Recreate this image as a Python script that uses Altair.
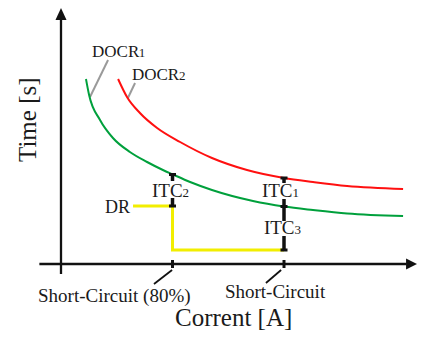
import altair as alt
import pandas as pd

# ---------------- data (current: short-circuit = 10 units, time: arbitrary units) -------------
docr1_current = [1.12, 1.26, 1.75, 2.33, 3.09, 3.86, 4.57, 5.02, 5.79, 6.77, 8.61, 10.0, 11.3, 12.83, 15.34]
docr1_time = [9.25, 8.45, 7.2, 6.3, 5.6, 5.1, 4.7, 4.475, 4.1, 3.7, 3.15, 2.875, 2.7, 2.525, 2.4]

docr2_current = [2.56, 2.96, 3.54, 4.31, 5.34, 6.77, 8.34, 10.0, 11.3, 12.83, 15.34]
docr2_time = [9.25, 8.35, 7.55, 6.8, 6.1, 5.3, 4.7, 4.3, 4.1, 3.9, 3.75]

dr_current = [3.23, 5.0, 5.0, 10.0]
dr_time = [2.9, 2.9, 0.7, 0.7]

# ITC vertical segments (broken where the labels sit)
itc_seg_current = [5.0, 5.0, 10.0, 10.0, 10.0]
itc_seg_from = [4.475, 3.3, 4.3, 3.25, 1.4]
itc_seg_to = [4.15, 2.9, 4.05, 2.15, 0.7]
# ITC end marks
itc_mark_current = [5.0, 5.0, 10.0, 10.0, 10.0]
itc_mark_time = [4.475, 2.9, 4.3, 2.875, 0.7]

# axis ticks
tick_current = [5.0, 10.0]

# axes extents
x_axis_from, x_axis_to = -0.97, 15.5
y_axis_from, y_axis_to = -0.5, 12.5
x_arrow = 15.72
y_arrow = 12.5

# leader lines
leader_x1 = [4.98, 9.87]
leader_y1 = [-0.3, -0.3]
leader_x2 = [4.17, 9.19]
leader_y2 = [-1.0, -0.95]
gray_x1 = [2.11, 3.32]
gray_y1 = [10.2, 9.05]
gray_x2 = [1.30, 3.00]
gray_y2 = [8.35, 8.3]

# labels
label_text = ["DOCR", "DOCR", "ITC", "ITC", "ITC", "DR"]
label_current = [1.39, 3.18, 4.08, 9.01, 9.10, 1.97]
label_time = [10.35, 9.2, 3.35, 3.35, 1.5, 2.55]
label_size = [17, 17, 19, 19, 19, 18]
sub_text = ["1", "2", "2", "1", "3"]
sub_current = [3.49, 5.29, 5.45, 10.38, 10.47]
sub_time = [10.35, 9.2, 3.35, 3.35, 1.5]
sc_text = ["Short-Circuit (80%)", "Short-Circuit"]
sc_current = [-1.03, 7.35]
sc_time = [-1.9, -1.7]

XDOM = [-2.3767, 15.964]
YDOM = [-3.4, 12.8]
W, H = 409, 324
FONT = "Liberation Serif"

xs = alt.Scale(domain=XDOM, nice=False, zero=False)
ys = alt.Scale(domain=YDOM, nice=False, zero=False)


def X(f="u"):
    return alt.X(f"{f}:Q", scale=xs, axis=None)


def Y(f="v"):
    return alt.Y(f"{f}:Q", scale=ys, axis=None)


green = alt.Chart(pd.DataFrame({"u": docr1_current, "v": docr1_time})).mark_line(
    color="#00a03c", strokeWidth=2, interpolate="monotone").encode(x=X(), y=Y())
red = alt.Chart(pd.DataFrame({"u": docr2_current, "v": docr2_time})).mark_line(
    color="#ff1010", strokeWidth=2, interpolate="monotone").encode(x=X(), y=Y())
yellow = alt.Chart(pd.DataFrame({"u": dr_current, "v": dr_time, "o": list(range(len(dr_time)))})).mark_line(
    color="#f2ee00", strokeWidth=3).encode(x=X(), y=Y(), order="o:O")

itc = alt.Chart(pd.DataFrame({"u": itc_seg_current, "v": itc_seg_from, "v2": itc_seg_to})).mark_rule(
    color="#111111", strokeWidth=3.5).encode(x=X(), y=Y(), y2="v2:Q")
itc_marks = alt.Chart(pd.DataFrame({"u": itc_mark_current, "v": itc_mark_time})).mark_tick(
    color="#111111", orient="horizontal", size=7, thickness=3, opacity=1).encode(x=X(), y=Y())

axes_df = pd.DataFrame({
    "u": [x_axis_from, 0.0], "u2": [x_axis_to, 0.0],
    "v": [0.0, y_axis_from], "v2": [0.0, y_axis_to]})
axes = alt.Chart(axes_df).mark_rule(color="#111111", strokeWidth=2.3).encode(
    x=X(), x2="u2:Q", y=Y(), y2="v2:Q")

ticks = alt.Chart(pd.DataFrame({"u": tick_current, "v": [0.0, 0.0]})).mark_tick(
    color="#111111", orient="vertical", size=8, thickness=3, opacity=1).encode(x=X(), y=Y())

arrow_up = alt.Chart(pd.DataFrame({"u": [0.0], "v": [y_arrow]})).mark_point(
    shape="M0,-1L-0.92,1L0.92,1Z", size=144, filled=True, color="#111111", opacity=1).encode(x=X(), y=Y())
arrow_right = alt.Chart(pd.DataFrame({"u": [x_arrow], "v": [0.0]})).mark_point(
    shape="M1,0L-1,-1L-1,1Z", size=121, filled=True, color="#111111", opacity=1).encode(x=X(), y=Y())

leaders = alt.Chart(pd.DataFrame({"u": leader_x1, "v": leader_y1, "u2": leader_x2, "v2": leader_y2})).mark_rule(
    color="#111111", strokeWidth=1.8).encode(x=X(), y=Y(), x2="u2:Q", y2="v2:Q")
gray = alt.Chart(pd.DataFrame({"u": gray_x1, "v": gray_y1, "u2": gray_x2, "v2": gray_y2})).mark_rule(
    color="#9a9a9a", strokeWidth=2).encode(x=X(), y=Y(), x2="u2:Q", y2="v2:Q")

labels = alt.Chart(pd.DataFrame({"t": label_text, "u": label_current, "v": label_time, "s": label_size})).mark_text(
    font=FONT, align="left", baseline="alphabetic", color="#1a1a1a").encode(
    x=X(), y=Y(), text="t:N", size=alt.Size("s:Q", scale=None, legend=None))
subs = alt.Chart(pd.DataFrame({"t": sub_text, "u": sub_current, "v": sub_time})).mark_text(
    font=FONT, fontSize=13, align="left", baseline="alphabetic", color="#1a1a1a").encode(
    x=X(), y=Y(), text="t:N")
sc = alt.Chart(pd.DataFrame({"t": sc_text, "u": sc_current, "v": sc_time})).mark_text(
    font=FONT, fontSize=19, align="left", baseline="alphabetic", color="#1a1a1a").encode(
    x=X(), y=Y(), text="t:N")
xtitle = alt.Chart(pd.DataFrame({"t": ["Corrent [A]"], "u": [5.11], "v": [-3.12]})).mark_text(
    font=FONT, fontSize=25, align="left", baseline="alphabetic", color="#1a1a1a").encode(
    x=X(), y=Y(), text="t:N")
ytitle = alt.Chart(pd.DataFrame({"t": ["Time [s]"], "u": [-1.12], "v": [5.1]})).mark_text(
    font=FONT, fontSize=25, align="left", baseline="alphabetic", angle=270, color="#1a1a1a").encode(
    x=X(), y=Y(), text="t:N")

chart = alt.layer(
    gray, green, red, yellow, axes, ticks, arrow_up, arrow_right, leaders,
    itc, itc_marks, labels, subs, sc, xtitle, ytitle
).properties(
    width=W, height=H, padding=0, background="white",
    autosize=alt.AutoSizeParams(type="none")
).configure_view(stroke=None)

chart.save("out.html", embed_options={"renderer": "svg", "actions": False})
